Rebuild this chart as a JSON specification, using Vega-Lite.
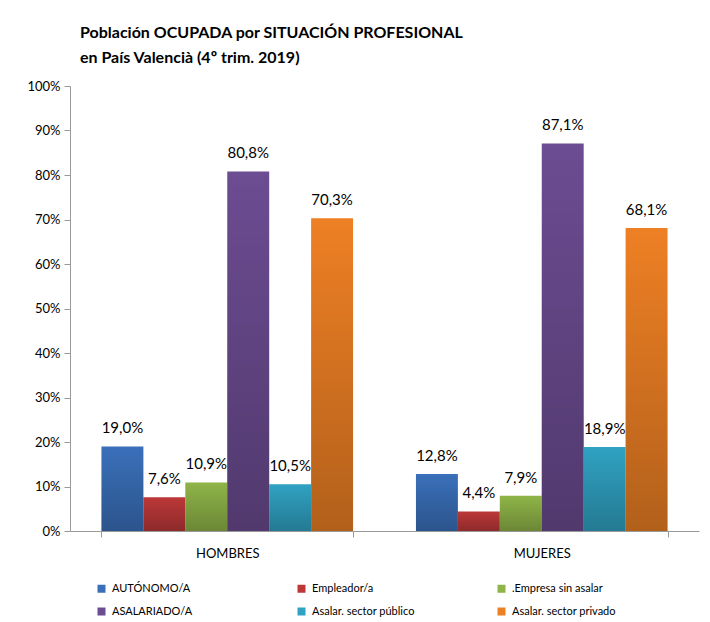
{
  "$schema": "https://vega.github.io/schema/vega-lite/v6.json",
  "width": 629,
  "height": 445,
  "autosize": {"type": "none"},
  "padding": {"left": 70, "top": 86, "right": 11, "bottom": 91},
  "config": {
    "locale": {"number": {"decimal": ",", "thousands": ".", "grouping": [3], "currency": ["", " €"]}},
    "view": {"stroke": null},
    "font": "Lato"
  },
  "title": {
    "text": ["Población OCUPADA por SITUACIÓN PROFESIONAL", "en País Valencià (4º trim. 2019)"],
    "anchor": "start",
    "frame": "group",
    "dx": 10,
    "fontSize": 16,
    "fontWeight": "bold",
    "font": "Lato",
    "lineHeight": 25,
    "offset": 14,
    "color": "#000000"
  },
  "data": {
    "values": [
      {"sexo": "HOMBRES", "cat": "AUTÓNOMO/A", "v": 0.190},
      {"sexo": "HOMBRES", "cat": "Empleador/a", "v": 0.076},
      {"sexo": "HOMBRES", "cat": ".Empresa sin asalar", "v": 0.109},
      {"sexo": "HOMBRES", "cat": "ASALARIADO/A", "v": 0.808},
      {"sexo": "HOMBRES", "cat": "Asalar. sector público", "v": 0.105},
      {"sexo": "HOMBRES", "cat": "Asalar. sector privado", "v": 0.703},
      {"sexo": "MUJERES", "cat": "AUTÓNOMO/A", "v": 0.128},
      {"sexo": "MUJERES", "cat": "Empleador/a", "v": 0.044},
      {"sexo": "MUJERES", "cat": ".Empresa sin asalar", "v": 0.079},
      {"sexo": "MUJERES", "cat": "ASALARIADO/A", "v": 0.871},
      {"sexo": "MUJERES", "cat": "Asalar. sector público", "v": 0.189},
      {"sexo": "MUJERES", "cat": "Asalar. sector privado", "v": 0.681}
    ]
  },
  "encoding": {
    "x": {
      "field": "sexo", "type": "nominal", "sort": ["HOMBRES", "MUJERES"],
      "scale": {"paddingInner": 0.2, "paddingOuter": 0.1},
      "axis": {"title": null, "labelAngle": 0, "tickBand": "extent", "domainColor": "#999999", "tickColor": "#999999", "tickSize": 6, "labelFontSize": 13, "labelPadding": 10, "labelColor": "#000000", "labelFont": "Lato", "labelFontWeight": "normal"}
    },
    "xOffset": {
      "field": "cat", "type": "nominal",
      "sort": ["AUTÓNOMO/A", "Empleador/a", ".Empresa sin asalar", "ASALARIADO/A", "Asalar. sector público", "Asalar. sector privado"],
      "scale": {"paddingInner": 0, "paddingOuter": 0}
    },
    "y": {
      "field": "v", "type": "quantitative",
      "scale": {"domain": [0, 1]},
      "axis": {"title": null, "format": ".0%", "values": [0, 0.1, 0.2, 0.3, 0.4, 0.5, 0.6, 0.7, 0.8, 0.9, 1], "grid": false, "domainColor": "#999999", "tickColor": "#999999", "tickSize": 6, "labelFontSize": 13, "labelPadding": 4, "labelColor": "#000000", "labelFont": "Lato"}
    }
  },
  "layer": [
    {
      "mark": {"type": "bar", "strokeWidth": 0},
      "encoding": {
        "color": {
          "field": "cat", "type": "nominal",
          "sort": ["AUTÓNOMO/A", "ASALARIADO/A", "Empleador/a", "Asalar. sector público", ".Empresa sin asalar", "Asalar. sector privado"],
          "scale": {"range": ["#3A70BA", "#6C4C92", "#BC3838", "#30A2C2", "#8FB448", "#EE8024"]},
          "legend": {
            "title": null, "orient": "none", "legendX": 26, "legendY": 497, "columns": 3, "gridAlign": "all",
            "symbolType": "square", "symbolSize": 64, "symbolStrokeWidth": 0,
            "labelFontSize": 11, "labelFont": "Lato", "labelColor": "#000000", "labelLimit": 250,
            "columnPadding": 80, "rowPadding": 11, "labelOffset": 5
          }
        }
      }
    },
    {
      "mark": {
        "type": "bar",
        "fill": {"gradient": "linear", "x1": 0, "y1": 0, "x2": 0, "y2": 1,
          "stops": [{"offset": 0, "color": "rgba(0,0,0,0)"}, {"offset": 1, "color": "rgba(0,0,0,0.25)"}]}
      }
    },
    {
      "mark": {"type": "text", "dy": -10, "baseline": "bottom", "fontSize": 15, "font": "Lato", "color": "#000000"},
      "encoding": {"text": {"field": "v", "type": "quantitative", "format": ".1%"}}
    }
  ]
}
